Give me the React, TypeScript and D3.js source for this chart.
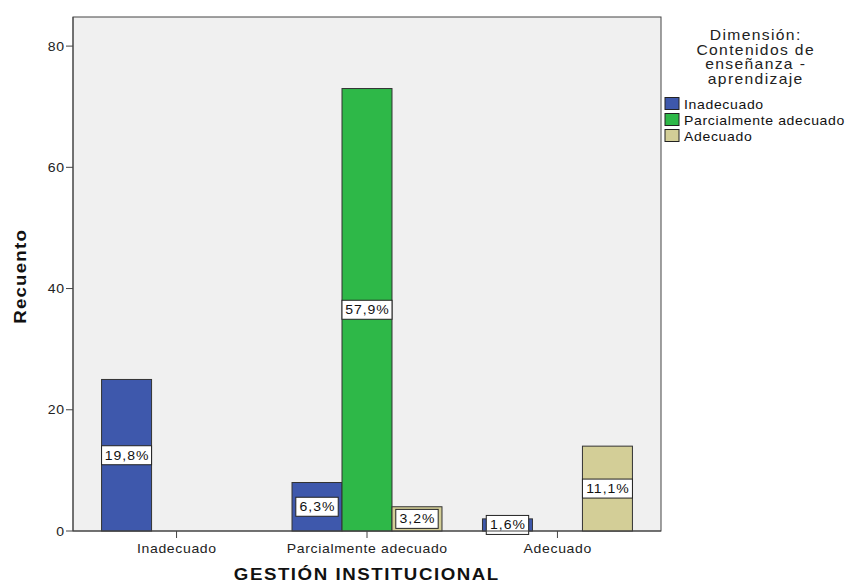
import React from "react";
import * as d3 from "d3";

const categories = ["Inadecuado", "Parcialmente adecuado", "Adecuado"];
const series = ["Inadecuado", "Parcialmente adecuado", "Adecuado"];
// counts[categoryIndex][seriesIndex]
const counts = [
  [25, 0, 0],
  [8, 73, 4],
  [2, 0, 14],
];
const percentLabels = [
  ["19,8%", "", ""],
  ["6,3%", "57,9%", "3,2%"],
  ["1,6%", "", "11,1%"],
];
const yTicks = [0, 20, 40, 60, 80];
const colors = ["#3E58AC", "#2EB848", "#D3CE97"];
const legendTitle = ["Dimensión:", "Contenidos de", "enseñanza -", "aprendizaje"];

const font = "'Liberation Sans', Arial, sans-serif";

function T(props: {
  x: number; y: number; sx: number; ls: number; size: number; anchor?: string;
  bold?: boolean; rotate?: number; fill?: string; children: React.ReactNode;
}) {
  const { x, y, sx, ls, size, anchor = "start", bold, rotate = 0, fill = "#222", children } = props;
  const shift = anchor === "middle" ? ls / 2 : anchor === "end" ? ls : 0;
  return (
    <text
      transform={`translate(${x},${y}) rotate(${rotate}) scale(${sx},1)`}
      x={shift}
      y={0}
      textAnchor={anchor}
      fontFamily={font}
      fontSize={size}
      fontWeight={bold ? "bold" : "normal"}
      letterSpacing={ls}
      fill={fill}
    >
      {children}
    </text>
  );
}

export default function App() {
  const W = 848, H = 583;
  const left = 73, right = 661, top = 17, bottom = 531;
  const y = d3.scaleLinear().domain([0, 84.8]).range([bottom, top]);
  const x0 = d3.scaleBand().domain(categories).range([left, right]).paddingInner(0.2126).paddingOuter(0.15);
  const x1 = d3.scaleBand().domain(series).range([0, x0.bandwidth()]);

  return (
    <svg width={W} height={H} style={{ position: "absolute", left: 0, top: 0 }}>
      <rect x={0} y={0} width={W} height={H} fill="#fff" />
      <rect x={left} y={top} width={right - left} height={bottom - top} fill="#F0F0F0" stroke="#444" strokeWidth={1} />
      {categories.map((c, ci) =>
        series.map((s, si) => {
          const v = counts[ci][si];
          if (!v) return null;
          const bx = (x0(c) as number) + (x1(s) as number);
          const bw = x1.bandwidth();
          const by = y(v);
          return (
            <rect key={c + s} x={bx} y={by} width={bw} height={bottom - by} fill={colors[si]} stroke="#333" strokeWidth={1} />
          );
        })
      )}
      {categories.map((c, ci) =>
        series.map((s, si) => {
          const v = counts[ci][si];
          const lbl = percentLabels[ci][si];
          if (!v || !lbl) return null;
          const bx = (x0(c) as number) + (x1(s) as number);
          const bw = x1.bandwidth();
          const cx = bx + bw / 2;
          const cy = (y(v) + bottom) / 2;
          const tw = lbl.length * 8.6 + 8;
          const boxW = Math.min(tw, bw);
          return (
            <g key={"l" + c + s}>
              <rect x={cx - boxW / 2} y={cy - 9.5} width={boxW} height={19} fill="#fff" stroke="#222" strokeWidth={1} />
              <T x={cx} y={cy + 4.5} sx={1.08} ls={0.9} size={13} anchor="middle" fill="#111">{lbl}</T>
            </g>
          );
        })
      )}
      {/* y axis */}
      <line x1={left} x2={left} y1={top} y2={bottom} stroke="#444" />
      {yTicks.map((t) => (
        <g key={t}>
          <line x1={left - 7} x2={left} y1={y(t)} y2={y(t)} stroke="#444" />
          <T x={left - 9} y={y(t) + 4.5} sx={1.08} ls={0.6} size={13} anchor="end">{t}</T>
        </g>
      ))}
      {/* x axis */}
      <line x1={left} x2={right} y1={bottom} y2={bottom} stroke="#444" />
      {categories.map((c) => {
        const cx = (x0(c) as number) + x0.bandwidth() / 2;
        return (
          <g key={c}>
            <line x1={cx} x2={cx} y1={bottom} y2={bottom + 7} stroke="#444" />
            <T x={cx} y={bottom + 22} sx={1.08} ls={0.6} size={13} anchor="middle">{c}</T>
          </g>
        );
      })}
      <T x={366} y={580} sx={1.1} ls={1.4} size={17} bold anchor="middle" fill="#111">GESTIÓN INSTITUCIONAL</T>
      <T x={26} y={277} rotate={-90} sx={1.1} ls={1.1} size={17} bold anchor="middle" fill="#111">Recuento</T>
      {/* legend */}
      {legendTitle.map((t, i) => (
        <T key={t} x={755} y={40 + i * 14.7} sx={1.12} ls={1.2} size={14} anchor="middle">{t}</T>
      ))}
      {series.map((s, i) => (
        <g key={"lg" + s}>
          <rect x={665} y={97.5 + i * 16} width={14} height={12} fill={colors[i]} stroke="#222" />
          <T x={684} y={108.5 + i * 16} sx={1.08} ls={0.6} size={13} fill="#111">{s}</T>
        </g>
      ))}
    </svg>
  );
}
